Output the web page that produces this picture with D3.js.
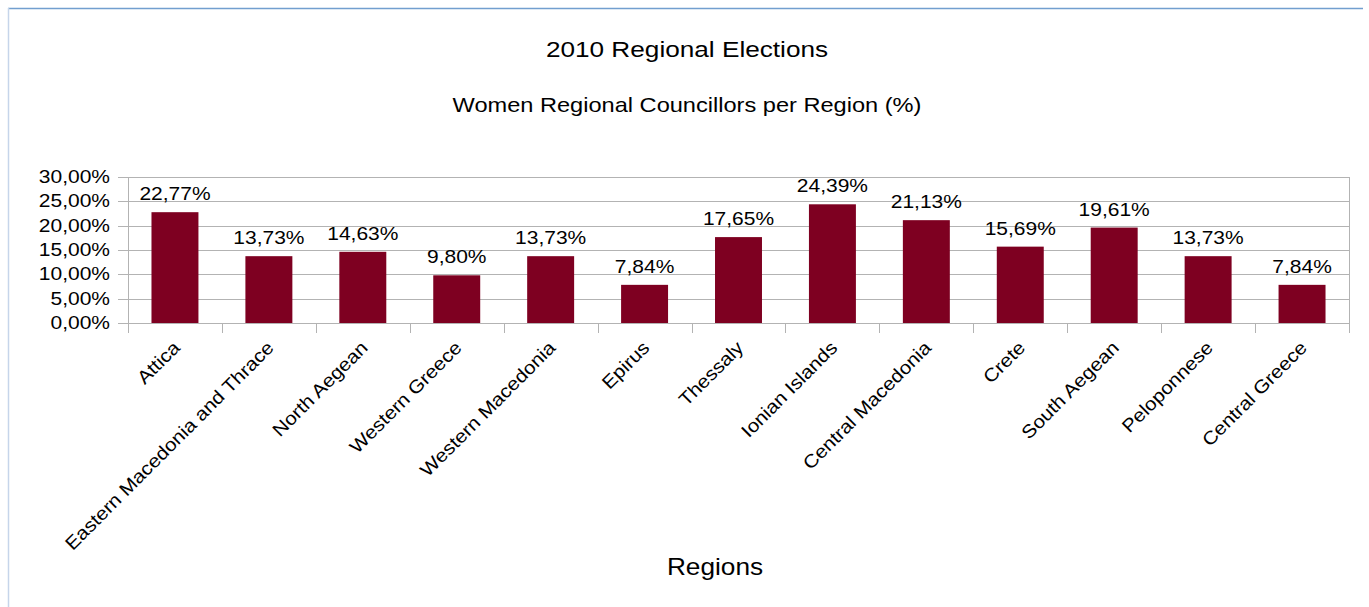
<!DOCTYPE html>
<html><head><meta charset="utf-8">
<script src="https://cdn.jsdelivr.net/npm/d3@7"></script>
<style>
body{margin:0;background:#fff;}
text{font-family:"Liberation Sans",Arial,sans-serif;}
</style></head>
<body><svg id="c" width="1369" height="607"></svg>
<script>
const categories = ["Attica","Eastern Macedonia and Thrace","North Aegean","Western Greece","Western Macedonia","Epirus","Thessaly","Ionian Islands","Central Macedonia","Crete","South Aegean","Peloponnese","Central Greece"];
const values = [22.77,13.73,14.63,9.80,13.73,7.84,17.65,24.39,21.13,15.69,19.61,13.73,7.84];
const yTicks = [0,5,10,15,20,25,30];
const title = "2010 Regional Elections";
const subtitle = "Women Regional Councillors per Region (%)";
const xTitle = "Regions";

const svg = d3.select("#c");
const fmt = v => v.toFixed(2).replace(".", ",") + "%";

// frame
svg.append("line").attr("x1",8).attr("x2",1363).attr("y1",8.5).attr("y2",8.5).attr("stroke","#729fcf").attr("stroke-width",1.5);
svg.append("line").attr("x1",8.5).attr("x2",8.5).attr("y1",8).attr("y2",607).attr("stroke","#c6d5ea").attr("stroke-width",1.5);

const L=128, R=1349, T=177, B=323;
const x = d3.scaleBand().domain(categories).range([L,R]).paddingInner(0.5).paddingOuter(0.25);
const xb = d3.scaleBand().domain(categories).range([L,R]);
const y = d3.scaleLinear().domain([0,30]).range([B,T]);

// grid
svg.append("g").selectAll("line").data(yTicks).join("line")
  .attr("x1",L-10).attr("x2",R).attr("y1",d=>Math.round(y(d))+0.5).attr("y2",d=>Math.round(y(d))+0.5)
  .attr("stroke","#b3b3b3").attr("stroke-width",1);
svg.append("line").attr("x1",L+0.5).attr("x2",L+0.5).attr("y1",T).attr("y2",B+10).attr("stroke","#b3b3b3");
svg.append("line").attr("x1",R+0.5).attr("x2",R+0.5).attr("y1",T).attr("y2",B+10).attr("stroke","#b3b3b3");
svg.append("g").selectAll("line").data(categories.slice(1)).join("line")
  .attr("x1",d=>Math.round(xb(d))+0.5).attr("x2",d=>Math.round(xb(d))+0.5).attr("y1",B).attr("y2",B+10)
  .attr("stroke","#b3b3b3");

// y labels
svg.append("g").selectAll("text").data(yTicks).join("text")
  .attr("transform",d=>`translate(110,${y(d)}) scale(1.2,1)`).attr("dy","0.35em").attr("text-anchor","end")
  .attr("font-size",17.5).attr("fill","#000").text(d=>fmt(d));

// bars
svg.append("g").selectAll("rect").data(values).join("rect")
  .attr("x",(d,i)=>x(categories[i])).attr("width",x.bandwidth())
  .attr("y",d=>y(d)).attr("height",d=>B-y(d)).attr("fill","#7e0021");

// value labels
svg.append("g").selectAll("text").data(values).join("text")
  .attr("transform",(d,i)=>`translate(${x(categories[i])+x.bandwidth()/2},${y(d)-12}) scale(1.2,1)`)
  .attr("text-anchor","middle").attr("font-size",17.5).attr("fill","#000").text(d=>fmt(d));

// category labels
svg.append("g").selectAll("text").data(categories).join("text")
  .attr("transform",d=>`translate(${xb(d)+xb.bandwidth()/2+6},${B+26}) rotate(-45) scale(1.11,1)`)
  .attr("text-anchor","end").attr("font-size",18.5).attr("fill","#000").text(d=>d);

// titles
svg.append("text").attr("transform","translate(687,57) scale(1.19,1)").attr("text-anchor","middle").attr("font-size",22).attr("fill","#000").text(title);
svg.append("text").attr("transform","translate(687,112) scale(1.18,1)").attr("text-anchor","middle").attr("font-size",20).attr("fill","#000").text(subtitle);
svg.append("text").attr("transform","translate(715,575) scale(1.14,1)").attr("text-anchor","middle").attr("font-size",23).attr("fill","#000").text(xTitle);
</script></body></html>
